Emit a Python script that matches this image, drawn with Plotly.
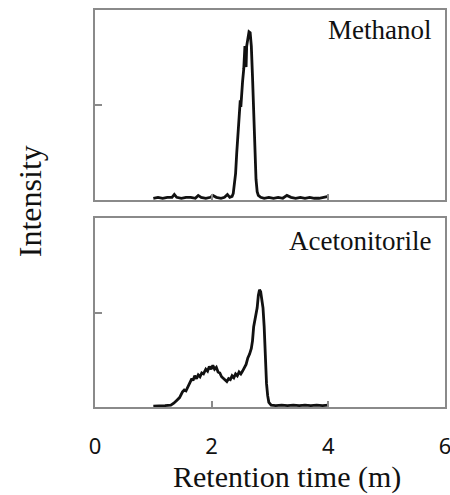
"""Retention time chromatograms, methanol vs acetonitorile, two stacked panels."""
import plotly.graph_objects as go

# ── Data ──────────────────────────────────────────────────────────────────
methanol_x = [
    1.00, 1.08, 1.16, 1.24, 1.32, 1.36, 1.40, 1.48, 1.56, 1.64, 1.72, 1.77,
    1.82, 1.90, 1.98, 2.02, 2.08, 2.16, 2.22, 2.27, 2.31, 2.35, 2.37, 2.39,
    2.41, 2.43, 2.45, 2.47, 2.49, 2.50, 2.51, 2.53, 2.55, 2.56, 2.57, 2.58,
    2.59, 2.60, 2.62, 2.64, 2.66, 2.68, 2.70, 2.72, 2.74, 2.76, 2.78, 2.80,
    2.84, 2.90, 2.98, 3.06, 3.14, 3.22, 3.29, 3.36, 3.44, 3.52, 3.60, 3.68,
    3.76, 3.84, 3.92, 4.00,
]
methanol_y = [
    0.02, 0.03, 0.02, 0.03, 0.03, 0.06, 0.03, 0.02, 0.03, 0.03, 0.02, 0.05,
    0.03, 0.02, 0.03, 0.05, 0.03, 0.02, 0.03, 0.06, 0.03, 0.04, 0.07, 0.15,
    0.28, 0.50, 0.72, 0.92, 1.05, 0.98, 1.12, 1.25, 1.38, 1.52, 1.62, 1.45,
    1.40, 1.62, 1.70, 1.77, 1.76, 1.62, 1.30, 0.95, 0.55, 0.22, 0.09, 0.05,
    0.03, 0.02, 0.03, 0.02, 0.03, 0.02, 0.05, 0.03, 0.02, 0.03, 0.02, 0.03,
    0.02, 0.02, 0.03, 0.04,
]

acetonitorile_x = [
    1.00, 1.10, 1.20, 1.30, 1.35, 1.40, 1.45, 1.50, 1.53, 1.56, 1.60, 1.63,
    1.66, 1.68, 1.71, 1.74, 1.77, 1.80, 1.83, 1.86, 1.90, 1.93, 1.96, 1.99,
    2.02, 2.05, 2.08, 2.11, 2.14, 2.17, 2.20, 2.23, 2.26, 2.29, 2.32, 2.35,
    2.38, 2.41, 2.44, 2.47, 2.50, 2.53, 2.56, 2.59, 2.62, 2.65, 2.68, 2.70,
    2.72, 2.74, 2.76, 2.78, 2.80, 2.82, 2.84, 2.86, 2.88, 2.90, 2.92, 2.94,
    2.96, 2.98, 3.02, 3.10, 3.20, 3.30, 3.40, 3.50, 3.60, 3.70, 3.80, 3.90,
    4.00,
]
acetonitorile_y = [
    0.01, 0.01, 0.015, 0.02, 0.04, 0.07, 0.10, 0.16, 0.18, 0.17, 0.22, 0.25,
    0.30, 0.28, 0.33, 0.30, 0.34, 0.32, 0.36, 0.35, 0.40, 0.38, 0.43, 0.40,
    0.44, 0.40, 0.42, 0.37, 0.36, 0.32, 0.30, 0.28, 0.27, 0.30, 0.29, 0.33,
    0.31, 0.35, 0.33, 0.37, 0.35, 0.38, 0.42, 0.45, 0.52, 0.56, 0.62, 0.70,
    0.85, 0.92, 0.95, 1.05, 1.18, 1.24, 1.22, 1.15, 1.05, 0.85, 0.45, 0.25,
    0.12, 0.05, 0.02, 0.015, 0.02, 0.015, 0.02, 0.015, 0.02, 0.015, 0.02, 0.015,
    0.02,
]

x_ticks = [0, 2, 4, 6]
y_ticks = [1]

# ── Styling ───────────────────────────────────────────────────────────────
FRAME = "#8a8a8a"
INK = "#111111"
SERIF = "Liberation Serif, Times New Roman, serif"
SANS = "Noto Sans, DejaVu Sans, sans-serif"

fig = go.Figure()
fig.add_trace(go.Scatter(
    x=methanol_x, y=methanol_y, mode="lines",
    line=dict(color=INK, width=2.8), xaxis="x", yaxis="y",
    showlegend=False,
))
fig.add_trace(go.Scatter(
    x=acetonitorile_x, y=acetonitorile_y, mode="lines",
    line=dict(color=INK, width=2.8), xaxis="x2", yaxis="y2",
    showlegend=False,
))

frame = dict(showline=True, mirror=True, linecolor=FRAME, linewidth=1.5,
             showgrid=False, zeroline=False, ticks="inside",
             tickcolor=FRAME, tickwidth=1.5)

fig.update_layout(
    width=450, height=495,
    margin=dict(l=95, r=3, t=10, b=88),
    paper_bgcolor="white", plot_bgcolor="white",
    xaxis=dict(**frame, range=[0, 6], tickvals=x_ticks, ticklen=6,
               showticklabels=False, anchor="y"),
    yaxis=dict(**frame, range=[0, 2], tickvals=y_ticks, ticklen=7,
               showticklabels=False, domain=[0.521, 1.0], anchor="x"),
    xaxis2=dict(**frame, range=[0, 6], tickvals=x_ticks, ticklen=6,
                showticklabels=True, anchor="y2", automargin=False,
                ticklabeloverflow="allow", ticklabelstandoff=19,
                tickfont=dict(family=SANS, size=22, color=INK)),
    yaxis2=dict(**frame, range=[0, 2], tickvals=y_ticks, ticklen=7,
                showticklabels=False, domain=[0.0, 0.476], anchor="x2"),
)

# panel labels
fig.add_annotation(text="Methanol", xref="x", yref="y", x=5.8, y=1.79,
                   xanchor="right", yanchor="middle", showarrow=False,
                   font=dict(family=SERIF, size=27, color=INK))
fig.add_annotation(text="Acetonitorile", xref="x2", yref="y2", x=5.8, y=1.76,
                   xanchor="right", yanchor="middle", showarrow=False,
                   font=dict(family=SERIF, size=27, color=INK))

# axis titles
fig.add_annotation(text="Retention time (m)", xref="paper", yref="paper",
                   x=0.548, y=-0.176, xanchor="center", yanchor="middle",
                   showarrow=False, font=dict(family=SERIF, size=30, color=INK))
fig.add_annotation(text="Intensity", xref="paper", yref="paper",
                   x=-0.185, y=0.519, xanchor="center", yanchor="middle",
                   textangle=-90, showarrow=False,
                   font=dict(family=SERIF, size=32, color=INK))

# drop the default page margin so the figure sits at the window corner
fig.write_html("out.html", config={"displayModeBar": False},
               post_script="document.body.style.margin='0';")
